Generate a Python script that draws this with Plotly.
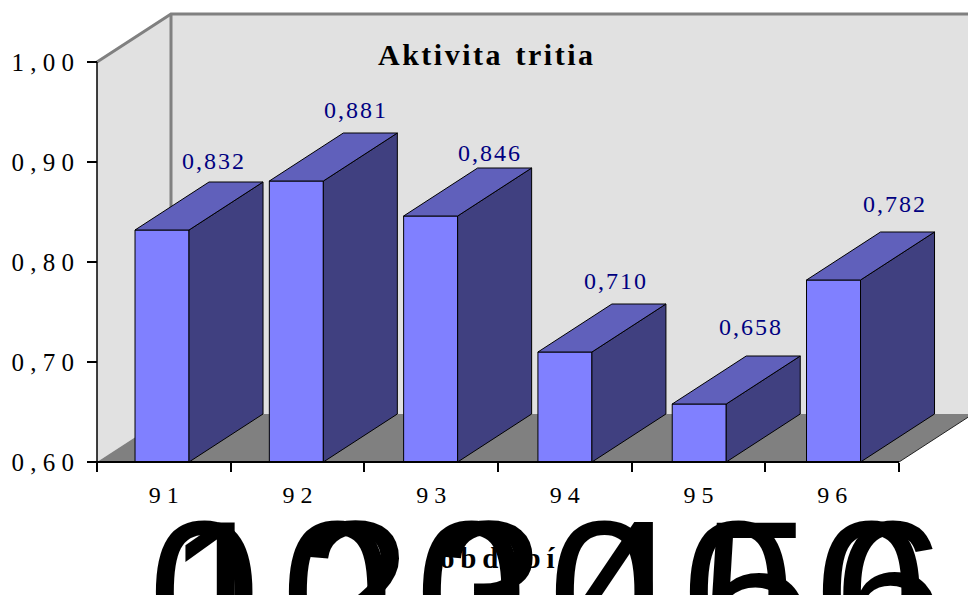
import plotly.graph_objects as go

# Tritium activity by period
categories = ["9 1", "9 2", "9 3", "9 4", "9 5", "9 6"]
values = [0.832, 0.881, 0.846, 0.710, 0.658, 0.782]
value_labels = ["0,832", "0,881", "0,846", "0,710", "0,658", "0,782"]
y_ticks = [0.6, 0.7, 0.8, 0.9, 1.0]
y_tick_labels = ["0 , 6 0", "0 , 7 0", "0 , 8 0", "0 , 9 0", "1 , 0 0"]
big_digits = ["1", "2", "3", "4", "5", "6"]

HAIR = "\u200a"
THIN = "\u2009"
TITLE = HAIR.join("Aktivita") + "  " + HAIR.join("tritia")
X_TITLE = THIN.join("období")

# Pixel nudges of the value labels relative to each column's back edge
label_dx = [-13, -5, -6, -14, -13, -4]
label_dy = [21, 23, 15, 23, 29, 28]

FRONT, TOP, SIDE = "#8080FF", "#6060BB", "#404080"
WALL, FLOOR, EDGE = "#E1E1E1", "#808080", "#808080"
NAVY = "#000080"
SERIF = "Liberation Serif"

# The plot area fills the page; the scale below expresses the oblique projection in axis units
W, H = 968, 595
L, R, T, B = 97, 899, 62, 462
PX_X = (R - L) / 6
PX_Y = (B - T) / 0.4
DX = 74 / PX_X
DY = 48 / PX_Y
BAR_W = 54 / PX_X
BAR_STEP = 134.3 / PX_X
BAR_START = -1.8 / PX_X

centres = [BAR_START + i * BAR_STEP for i in range(len(values))]
Y0, Y1 = 0.6, 1.0
X0, X1 = -0.5, 5.5


def xpx(px):
    return X0 + (px - L) / PX_X


def ypx(px):
    return Y0 - (px - B) / PX_Y


def poly_path(pts):
    return "M " + " L ".join(f"{x},{y}" for x, y in pts) + " Z"


fig = go.Figure()

shapes = [
    # back wall, side wall, floor
    dict(type="path", layer="below", xref="x", yref="y", fillcolor=WALL, line=dict(width=0),
         path=poly_path([(X0 + DX, Y0 + DY), (X0 + DX, Y1 + DY), (X1 + DX, Y1 + DY), (X1 + DX, Y0 + DY)])),
    dict(type="path", layer="below", xref="x", yref="y", fillcolor=WALL, line=dict(width=0),
         path=poly_path([(X0, Y0), (X0, Y1), (X0 + DX, Y1 + DY), (X0 + DX, Y0 + DY)])),
    dict(type="path", layer="below", xref="x", yref="y", fillcolor=FLOOR, line=dict(width=0),
         path=poly_path([(X0, Y0), (X1, Y0), (X1 + DX, Y0 + DY), (X0 + DX, Y0 + DY)])),
    # grey wall edges
    dict(type="path", layer="below", xref="x", yref="y", line=dict(color=EDGE, width=3),
         path=f"M {X0},{Y1} L {X0 + DX},{Y1 + DY} L {X1 + DX},{Y1 + DY}"),
    dict(type="line", layer="below", xref="x", yref="y", line=dict(color=EDGE, width=3),
         x0=X0 + DX, x1=X0 + DX, y0=Y0 + DY, y1=Y1 + DY),
    dict(type="line", layer="below", xref="x", yref="y", line=dict(color="#222222", width=1),
         x0=X1, x1=X1 + DX, y0=Y0, y1=Y0 + DY),
    # axis lines
    dict(type="line", layer="above", xref="x", yref="y", line=dict(color="#000000", width=2),
         x0=X0, x1=X1, y0=Y0, y1=Y0),
    dict(type="line", layer="above", xref="x", yref="y", line=dict(color="#000000", width=1.5),
         x0=X0, x1=X0, y0=Y0, y1=Y1),
]

# Front faces of the columns
fig.add_trace(go.Bar(
    x=centres, y=[v - Y0 for v in values], base=Y0, width=BAR_W,
    marker=dict(color=FRONT, line=dict(color="#000000", width=1)),
    showlegend=False, hoverinfo="skip",
))

# Side and top faces follow from each value and the projection depth
for c, v in zip(centres, values):
    xl, xr = c - BAR_W / 2, c + BAR_W / 2
    fig.add_trace(go.Scatter(
        x=[xr, xr + DX, xr + DX, xr, xr], y=[Y0, Y0 + DY, v + DY, v, Y0],
        mode="lines", fill="toself", fillcolor=SIDE,
        line=dict(color="#000000", width=1), showlegend=False, hoverinfo="skip",
    ))
    fig.add_trace(go.Scatter(
        x=[xl, xl + DX, xr + DX, xr, xl], y=[v, v + DY, v + DY, v, v],
        mode="lines", fill="toself", fillcolor=TOP,
        line=dict(color="#000000", width=1), showlegend=False, hoverinfo="skip",
    ))

annotations = []
for c, v, text, dx, dy in zip(centres, values, value_labels, label_dx, label_dy):
    annotations.append(dict(
        x=c + BAR_W / 2 + DX / 2, y=v + DY, xref="x", yref="y", xshift=dx, yshift=dy,
        text=HAIR.join(text), showarrow=False, xanchor="center", yanchor="middle",
        font=dict(family=SERIF, size=24, color=NAVY),
    ))

# Oversized zero and period digit set over each other below the axis
for i, d in enumerate(big_digits):
    for glyph, shift in (("0", 0), (d, 18)):
        annotations.append(dict(
            x=xpx(203.5 + 133.5 * i), y=ypx(592), xref="x", yref="y", xshift=shift,
            text=glyph, showarrow=False, xanchor="center", yanchor="middle",
            font=dict(family="Liberation Sans", size=202, color="#000000"),
        ))

annotations.append(dict(
    x=xpx(497), y=ypx(558), xref="x", yref="y", text=f"<b>{X_TITLE}</b>", showarrow=False,
    font=dict(family=SERIF, size=29, color="#000000"),
))
annotations.append(dict(
    x=xpx(485.5), y=ypx(54), xref="x", yref="y", text=f"<b>{TITLE}</b>",
    showarrow=False, font=dict(family=SERIF, size=30, color="#000000"),
))

fig.update_layout(
    width=W, height=H, autosize=False,
    margin=dict(l=0, r=0, t=0, b=0),
    paper_bgcolor="#FFFFFF", plot_bgcolor="rgba(0,0,0,0)",
    shapes=shapes, annotations=annotations, barmode="overlay",
    xaxis=dict(
        range=[xpx(0), xpx(W)], anchor="free", position=(H - B) / H,
        tickmode="array", tickvals=list(range(6)), ticktext=categories,
        ticks="", showgrid=False, zeroline=False, showline=False,
        tickfont=dict(family=SERIF, size=24, color="#000000"), ticklabelstandoff=16,
        minor=dict(tickmode="array", tickvals=[X0 + i for i in range(7)], ticks="outside",
                   ticklen=9, tickwidth=2, tickcolor="#000000", showgrid=False),
    ),
    yaxis=dict(
        range=[ypx(H), ypx(0)], anchor="free", position=L / W,
        tickmode="array", tickvals=y_ticks, ticktext=y_tick_labels,
        ticks="outside", ticklen=10, tickwidth=2, tickcolor="#000000",
        showgrid=False, zeroline=False, showline=False,
        tickfont=dict(family=SERIF, size=25, color="#000000"), ticklabelstandoff=8,
    ),
)

fig.write_html("out.html", config=dict(displayModeBar=False))
